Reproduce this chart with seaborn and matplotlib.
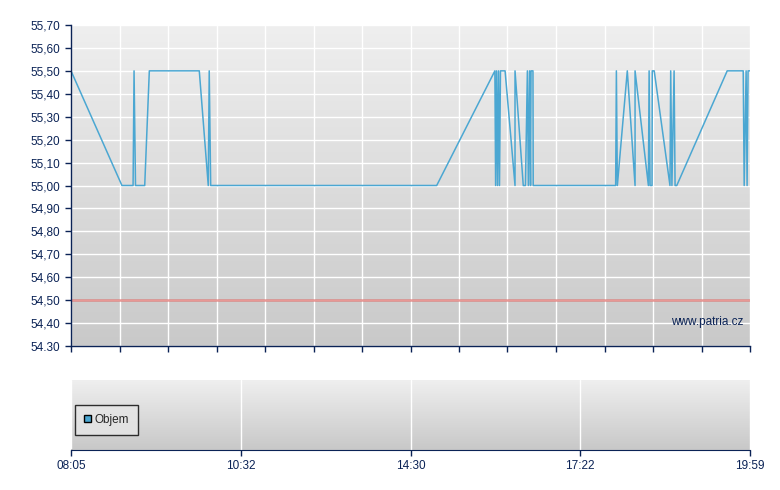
import numpy as np
import pandas as pd
import seaborn as sns
import matplotlib.pyplot as plt

# ---------------- data ----------------
# position along the trading session (0 = 08:05, 280 = 19:59)
pos = [0.0, 21.0, 25.6, 26.0, 26.6, 30.4, 32.3, 52.9, 56.6, 57.0, 57.6,
       150.8, 174.8, 175.1, 175.5, 175.9, 176.3, 176.7, 177.1, 179.0, 183.1,
       183.1, 186.5, 187.4, 188.2, 188.6, 189.1, 189.5, 189.7, 190.5, 190.6,
       224.6, 224.9, 225.3, 229.4, 232.6, 232.6, 238.1, 238.4, 238.8, 239.6,
       239.7, 240.5, 247.0, 247.3, 247.8, 248.7, 249.1, 249.8, 270.6, 277.2,
       277.6, 278.4, 278.8, 279.2, 280.0]
price = [55.50, 55.00, 55.00, 55.50, 55.00, 55.00, 55.50, 55.50, 55.00, 55.50, 55.00,
         55.00, 55.50, 55.00, 55.50, 55.00, 55.50, 55.00, 55.50, 55.50, 55.00,
         55.50, 55.00, 55.00, 55.50, 55.00, 55.50, 55.00, 55.50, 55.50, 55.00,
         55.00, 55.50, 55.00, 55.50, 55.00, 55.50, 55.00, 55.50, 55.00, 55.00,
         55.50, 55.50, 55.00, 55.50, 55.00, 55.50, 55.00, 55.00, 55.50, 55.50,
         55.00, 55.50, 55.00, 55.50, 55.50]
ref_price = 54.50
time_labels = ["08:05", "10:32", "14:30", "17:22", "19:59"]
y_ticks = [54.30, 54.40, 54.50, 54.60, 54.70, 54.80, 54.90, 55.00,
           55.10, 55.20, 55.30, 55.40, 55.50, 55.60, 55.70]

df = pd.DataFrame({"pos": pos, "price": price})

# ---------------- style ----------------
sns.set_style("white")
plt.rcParams['font.family'] = ['Liberation Sans Narrow', 'Liberation Sans', 'DejaVu Sans']
navy = "#0b2356"
line_col = "#4ba7d2"

fig = plt.figure(figsize=(7.8, 4.9), dpi=100)
ax = fig.add_axes([71/780, 1-346/490, 679/780, 321/490])
ax2 = fig.add_axes([71/780, 1-450/490, 679/780, 70/490])

def gradient(a, top, bottom):
    g = np.linspace(0, 1, 256).reshape(-1, 1)
    c0 = np.array(plt.matplotlib.colors.to_rgb(top))
    c1 = np.array(plt.matplotlib.colors.to_rgb(bottom))
    img = c0 + (c1 - c0) * g[:, :, None]
    a.imshow(img, extent=[0, 1, 0, 1], transform=a.transAxes, aspect="auto",
             zorder=0, origin="upper")

# ---------------- price panel ----------------
gradient(ax, "#efefef", "#c9c9c9")
ax.set_axisbelow(True)
sns.lineplot(data=df, x="pos", y="price", sort=False, estimator=None,
             color=line_col, linewidth=1.1, ax=ax, zorder=3)
ax.axhline(ref_price, color="#d9534f", alpha=0.6, linewidth=1.8, zorder=2)

ax.set_xlim(0, 280)
ax.set_ylim(54.30, 55.70)
ax.set_yticks(y_ticks)
ylabels = [f"{v:.2f}".replace(".", ",") for v in y_ticks]
ylabels[0] = "54.30"
ax.set_yticklabels(ylabels)
ax.set_xticks(np.linspace(0, 280, 15))
ax.set_xticklabels([])
ax.grid(True, color="white", linewidth=1.0)
for s in ["top", "right"]:
    ax.spines[s].set_visible(False)
for s in ["left", "bottom"]:
    ax.spines[s].set_color(navy)
    ax.spines[s].set_linewidth(1.0)
    ax.spines[s].set_zorder(5)
ax.tick_params(axis="both", colors=navy, labelsize=8.5, length=4, width=1,
               direction="out", left=True, bottom=True)
ax.set_xlabel("")
ax.set_ylabel("")
ax.text(0.99, 0.075, "www.patria.cz", transform=ax.transAxes, ha="right",
        va="center", color=navy, fontsize=8.5, zorder=4)

# ---------------- volume panel ----------------
gradient(ax2, "#efefef", "#c8c8c8")
ax2.set_axisbelow(True)
ax2.set_xlim(0, 280)
ax2.set_ylim(0, 1)
ax2.set_xticks(np.linspace(0, 280, 5))
ax2.set_xticklabels(time_labels)
ax2.set_yticks([])
ax2.grid(True, axis="x", color="white", linewidth=1.0)
for s in ["top", "right", "left"]:
    ax2.spines[s].set_visible(False)
ax2.spines["bottom"].set_color(navy)
ax2.spines["bottom"].set_zorder(5)
ax2.tick_params(axis="x", colors=navy, labelsize=8.5, length=4, width=1,
                direction="out", bottom=True)
ax2.bar([0], [0], color=line_col, edgecolor="black", label="Objem")
leg = ax2.legend(loc="center left", bbox_to_anchor=(0.006, 0.43), frameon=True,
                 fancybox=False, fontsize=8.5, handlelength=0.6, handleheight=0.6,
                 handletextpad=0.3, borderpad=0.75, borderaxespad=0)
leg.get_frame().set_edgecolor("black")
leg.get_frame().set_facecolor("#e6e6e6")
leg.get_frame().set_linewidth(1.0)

fig.savefig("out.png", dpi=100)
